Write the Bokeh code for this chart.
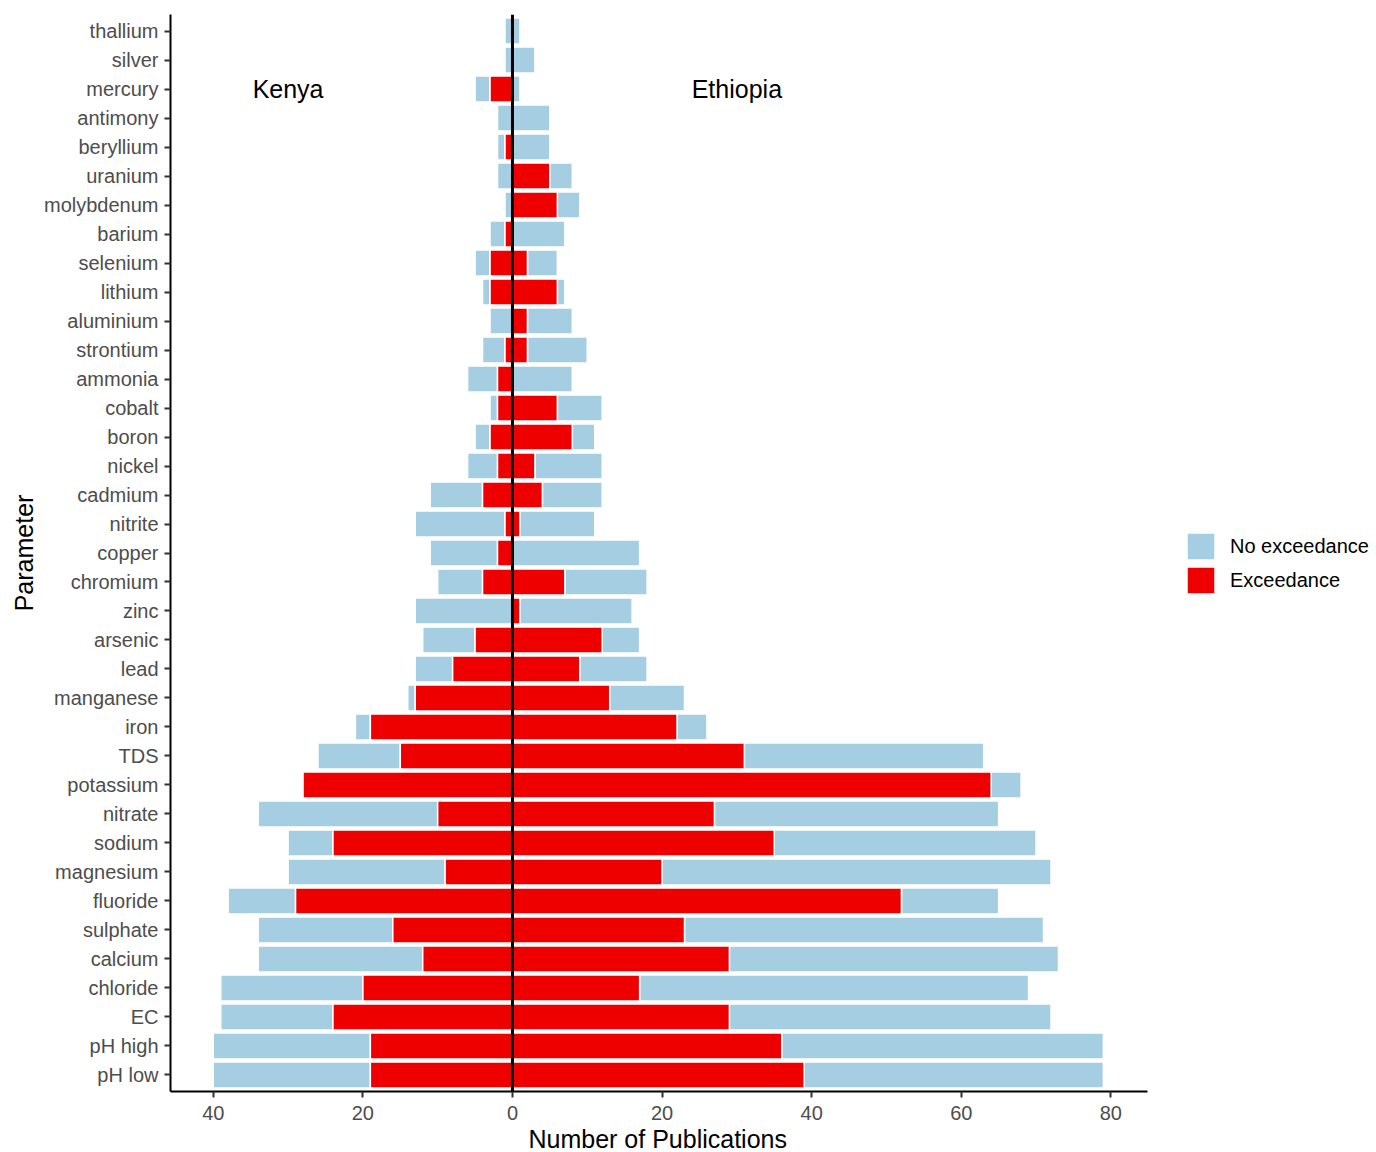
from bokeh.plotting import figure
from bokeh.models import (FactorRange, Range1d, Span, Legend, LegendItem, Title,
                          CustomJSTickFormatter, FixedTicker, ColumnDataSource)
from bokeh.core.properties import value
from bokeh.embed import file_html
from bokeh.resources import INLINE

# Parameters listed top to bottom as in the chart
parameters = ["thallium", "silver", "mercury", "antimony", "beryllium", "uranium",
              "molybdenum", "barium", "selenium", "lithium", "aluminium", "strontium",
              "ammonia", "cobalt", "boron", "nickel", "cadmium", "nitrite", "copper",
              "chromium", "zinc", "arsenic", "lead", "manganese", "iron", "TDS",
              "potassium", "nitrate", "sodium", "magnesium", "fluoride", "sulphate",
              "calcium", "chloride", "EC", "pH high", "pH low"]

kenya_exceed = [0, 0, 3, 0, 1, 0, 0, 1, 3, 3, 0, 1, 2, 2, 3, 2, 4, 1, 2, 4, 0, 5, 8, 13,
                19, 15, 28, 10, 24, 9, 29, 16, 12, 20, 24, 19, 19]
kenya_no_exceed = [1, 1, 2, 2, 1, 2, 1, 2, 2, 1, 3, 3, 4, 1, 2, 4, 7, 12, 9, 6, 13, 7, 5, 1,
                   2, 11, 0, 24, 6, 21, 9, 18, 22, 19, 15, 21, 21]
ethiopia_exceed = [0, 0, 0, 0, 0, 5, 6, 0, 2, 6, 2, 2, 0, 6, 8, 3, 4, 1, 0, 7, 1, 12, 9, 13,
                   22, 31, 64, 27, 35, 20, 52, 23, 29, 17, 29, 36, 39]
ethiopia_no_exceed = [1, 3, 1, 5, 5, 3, 3, 7, 4, 1, 6, 8, 8, 6, 3, 9, 8, 10, 17, 11, 15, 5, 9,
                      10, 4, 32, 4, 38, 35, 52, 13, 48, 44, 52, 43, 43, 40]

x_ticks = [-40, -20, 0, 20, 40, 60, 80]

BLUE = "#A6CEE3"
RED = "#EE0000"
FONT = "Liberation Sans"

src = ColumnDataSource(dict(
    param=parameters,
    k_red_l=[-v for v in kenya_exceed],
    k_red_r=[0] * len(parameters),
    k_blue_l=[-(a + b) for a, b in zip(kenya_exceed, kenya_no_exceed)],
    k_blue_r=[-v for v in kenya_exceed],
    e_red_l=[0] * len(parameters),
    e_red_r=ethiopia_exceed,
    e_blue_l=ethiopia_exceed,
    e_blue_r=[a + b for a, b in zip(ethiopia_exceed, ethiopia_no_exceed)],
))

factors = list(reversed(parameters))

# The frame extends to the right edge so the legend can sit inside it;
# the visible x axis line is limited to the data panel with axis bounds.
p = figure(width=1372, height=1152,
           y_range=FactorRange(factors=factors, range_padding=0.07,
                               range_padding_units="absolute"),
           x_range=Range1d(-45.72, 114.98),
           output_backend="svg", toolbar_location=None,
           min_border_left=170, min_border_right=0, min_border_top=14,
           min_border_bottom=58)

h = 0.9
rb1 = p.hbar(y="param", left="k_blue_l", right="k_blue_r", height=h, source=src,
             fill_color=BLUE, line_color="white", line_width=1.5)
rr1 = p.hbar(y="param", left="k_red_l", right="k_red_r", height=h, source=src,
             fill_color=RED, line_color="white", line_width=1.5)
rb2 = p.hbar(y="param", left="e_blue_l", right="e_blue_r", height=h, source=src,
             fill_color=BLUE, line_color="white", line_width=1.5)
rr2 = p.hbar(y="param", left="e_red_l", right="e_red_r", height=h, source=src,
             fill_color=RED, line_color="white", line_width=1.5)

p.add_layout(Span(location=0, dimension="height", line_color="black", line_width=3))

p.text(x=[-30, 30], y=["mercury", "mercury"], text=["Kenya", "Ethiopia"],
       text_font=value(FONT), text_font_size="25px", text_align="center",
       text_baseline="middle", text_color="black")

# Axes styling
p.xgrid.visible = False
p.ygrid.visible = False
p.outline_line_color = None
p.background_fill_color = "white"
p.border_fill_color = "white"

p.xaxis.ticker = FixedTicker(ticks=x_ticks)
p.xaxis.bounds = (-45.72, 84.89)
p.xaxis.formatter = CustomJSTickFormatter(code="return Math.abs(tick).toString();")
p.yaxis.axis_label = "Parameter"

for ax in (p.xaxis[0], p.yaxis[0]):
    ax.axis_line_color = "black"
    ax.axis_line_width = 2
    ax.major_tick_line_color = "#333333"
    ax.major_tick_line_width = 2
    ax.major_tick_out = 6
    ax.major_tick_in = 0
    ax.minor_tick_line_color = None
    ax.major_label_text_font = FONT
    ax.major_label_text_font_size = "20px"
    ax.major_label_text_color = "#4D4D4D"
    ax.axis_label_text_font = FONT
    ax.axis_label_text_font_size = "25px"
    ax.axis_label_text_font_style = "normal"
    ax.axis_label_text_color = "black"
    ax.major_label_standoff = 6

p.xaxis.major_label_standoff = 8
p.yaxis.axis_label_standoff = 3

# x axis title, centred under the data panel (not under the legend area)
p.add_layout(Title(text="Number of Publications", align="left", offset=358,
                   text_font=FONT, text_font_size="25px", text_font_style="normal",
                   text_color="black", standoff=0), "below")

legend = Legend(items=[LegendItem(label="No exceedance", renderers=[rb2]),
                       LegendItem(label="Exceedance", renderers=[rr2])],
                location=(1013, 494), glyph_width=35, glyph_height=34,
                label_text_font=FONT, label_text_font_size="20px",
                label_text_color="black", label_standoff=12, spacing=0,
                margin=0, padding=0, border_line_color=None,
                background_fill_alpha=0)
p.add_layout(legend, "center")

open("out.html", "w").write(file_html(p, INLINE))
